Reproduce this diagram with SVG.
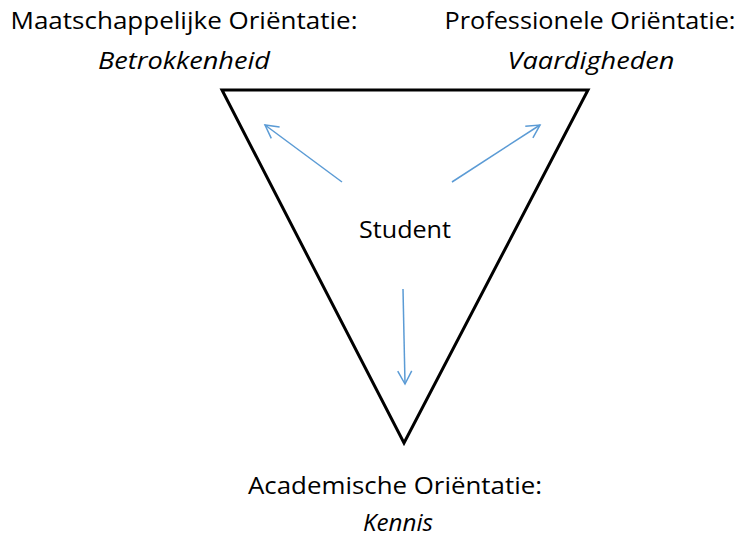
<svg xmlns="http://www.w3.org/2000/svg" width="741" height="539" viewBox="0 0 741 539">
<defs>
<style>
text{font-family:"Open Sans","Liberation Sans",sans-serif;font-size:23.5px;fill:#000;text-anchor:middle}
.it{font-style:italic}
.arr{stroke:#5b9bd5;stroke-width:1.5;fill:none}
</style>
<marker id="ah" markerWidth="20" markerHeight="20" refX="14" refY="8" orient="auto" markerUnits="userSpaceOnUse" viewBox="0 0 20 16">
<path d="M1,1 L14,8 L1,15" fill="none" stroke="#5b9bd5" stroke-width="1.5"/>
</marker>
</defs>
<rect width="741" height="539" fill="#fff"/>
<g id="triangle">
<polygon points="222,90 588,90 404,443" fill="none" stroke="#000" stroke-width="3" stroke-linejoin="miter"/>
</g>
<g id="student"><text x="405" y="238" textLength="92" lengthAdjust="spacingAndGlyphs">Student</text></g>
<g id="maatschappelijk">
<text x="184" y="29" textLength="347" lengthAdjust="spacingAndGlyphs">Maatschappelijke Oriëntatie:</text>
<text class="it" x="184" y="69" textLength="172" lengthAdjust="spacingAndGlyphs">Betrokkenheid</text>
</g>
<g id="professioneel">
<text x="590" y="29" textLength="291" lengthAdjust="spacingAndGlyphs">Professionele Oriëntatie:</text>
<text class="it" x="591" y="69" textLength="167" lengthAdjust="spacingAndGlyphs">Vaardigheden</text>
</g>
<g id="academisch">
<text x="395" y="494" textLength="294" lengthAdjust="spacingAndGlyphs">Academische Oriëntatie:</text>
<text class="it" x="398" y="531" font-size="22" textLength="70" lengthAdjust="spacingAndGlyphs">Kennis</text>
</g>
<g id="connectors">
<line class="arr" x1="342" y1="182" x2="265" y2="125" marker-end="url(#ah)"/>
<line class="arr" x1="452" y1="182" x2="540" y2="125" marker-end="url(#ah)"/>
<line class="arr" x1="403" y1="289" x2="405" y2="384" marker-end="url(#ah)"/>
</g>
</svg>
